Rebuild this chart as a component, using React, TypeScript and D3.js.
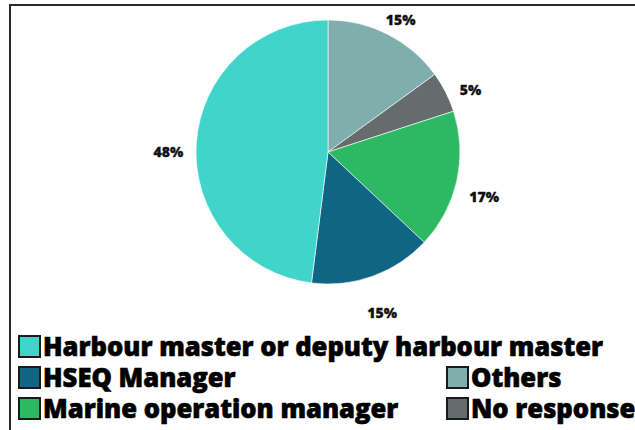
import * as d3 from "d3";

// slices, clockwise from 12 o'clock
const categories = [
  "Others",
  "No response",
  "Marine operation manager",
  "HSEQ Manager",
  "Harbour master or deputy harbour master",
];
const values = [15, 5, 17, 15, 48];
const colors = ["#7faead", "#646c6c", "#2db964", "#0f6584", "#40d5c8"];

// legend rows as laid out in the picture
const legendRows = [
  ["Harbour master or deputy harbour master"],
  ["HSEQ Manager", "Others"],
  ["Marine operation manager", "No response"],
];

const W = 635;
const H = 430;
const FONT = "'Open Sans', 'DejaVu Sans', sans-serif";

export default function App() {
  const cx = 328;
  const cy = 152;
  const radius = 132;
  const labelRadius = 160;

  const color = d3.scaleOrdinal<string, string>().domain(categories).range(colors);
  const pie = d3
    .pie<number>()
    .sort(null)
    .value((d) => d);
  const arcs = pie(values);
  const arc = d3.arc<d3.PieArcDatum<number>>().innerRadius(0).outerRadius(radius);
  const labelArc = d3
    .arc<d3.PieArcDatum<number>>()
    .innerRadius(labelRadius)
    .outerRadius(labelRadius);

  const rowY = d3.scaleLinear().domain([0, 1]).range([335, 366]);
  const colX = d3.scaleOrdinal<number, number>().domain([0, 1]).range([18, 446]);

  return (
    <svg
      width={W}
      height={H}
      style={{ position: "absolute", left: 0, top: 0, background: "#fff" }}
      fontFamily={FONT}
    >
      <rect x={10} y={5} width={W + 20} height={H + 20} fill="#fff" stroke="#2a2a2a" strokeWidth={2} />
      <g transform={`translate(${cx},${cy})`}>
        {arcs.map((a, i) => (
          <path key={i} d={arc(a) || ""} fill={color(categories[i])} stroke="#fff" strokeWidth={0.6} />
        ))}
        {arcs.map((a, i) => {
          const [x, y] = labelArc.centroid(a);
          return (
            <text
              key={"l" + i}
              x={x}
              y={y + 10}
              textAnchor="middle"
              dominantBaseline="central"
              fontSize={14}
              fontWeight={800}
              fill="#111"
              stroke="#111"
              strokeWidth={0.3}
            >
              {values[i]}%
            </text>
          );
        })}
      </g>
      <g>
        {legendRows.map((row, r) =>
          row.map((name, c) => {
            const x = colX(c);
            const y = rowY(r);
            return (
              <g key={name} transform={`translate(${x},${y})`}>
                <rect x={1} y={1} width={21} height={21} fill={color(name)} stroke="#1a1a1a" strokeWidth={2} />
                <text
                  x={25}
                  y={21}
                  fontSize={25.6}
                  fontWeight={800}
                  fill="#000"
                  stroke="#000"
                  strokeWidth={0.6}
                >
                  {name}
                </text>
              </g>
            );
          })
        )}
      </g>
    </svg>
  );
}
